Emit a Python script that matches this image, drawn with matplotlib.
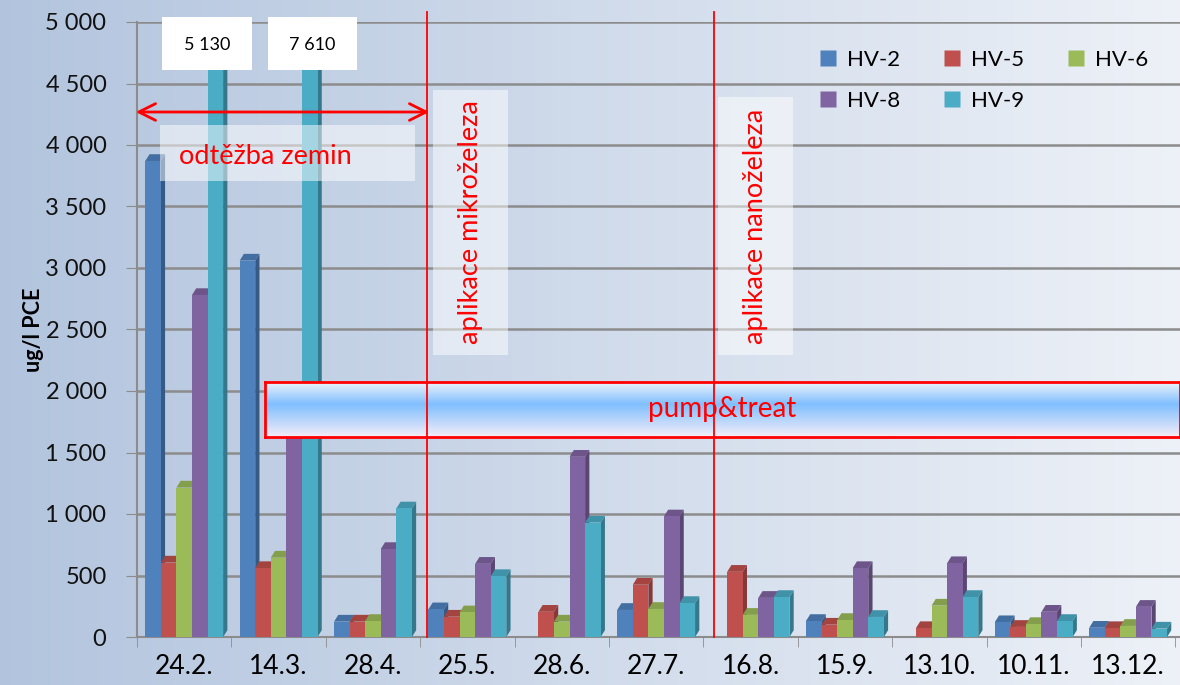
import numpy as np
import matplotlib
matplotlib.use("Agg")
import matplotlib.pyplot as plt
from matplotlib.patches import Polygon, Rectangle, FancyArrowPatch
from matplotlib.lines import Line2D
from matplotlib.ticker import FuncFormatter

plt.rcParams['font.family'] = ['Lato', 'DejaVu Sans']

# data
dates = ['24.2.', '14.3.', '28.4.', '25.5.', '28.6.', '27.7.', '16.8.',
         '15.9.', '13.10.', '10.11.', '13.12.']
series = ['HV-2', 'HV-5', 'HV-6', 'HV-8', 'HV-9']
hv2 = [3870, 3060, 125, 225, 0, 220, 0, 130, 0, 120, 75]
hv5 = [605, 560, 125, 165, 205, 425, 530, 100, 72, 82, 72]
hv6 = [1215, 645, 130, 200, 125, 228, 180, 138, 255, 105, 90]
hv8 = [2780, 1700, 715, 595, 1465, 980, 318, 560, 600, 205, 245]
hv9 = [5130, 7610, 1045, 495, 930, 276, 325, 163, 325, 130, 68]
colors = ['#4f81bd', '#c0504d', '#9bbb59', '#8064a2', '#4bacc6']

W, H = 1180, 685
fig = plt.figure(figsize=(W / 100, H / 100), dpi=100)

def fx(p):
    return p / W

def fy(p):
    return 1 - p / H

# background gradient
bg = fig.add_axes([0, 0, 1, 1], zorder=-10)
c0 = np.array([0.70, 0.77, 0.87])
c1 = np.array([0.93, 0.945, 0.97])
t = np.linspace(0, 1, 256)
grad = c0[None, :] * (1 - t[:, None]) + c1[None, :] * t[:, None]
bg.imshow(grad[None, :, :], aspect='auto', extent=[0, 1, 0, 1])
bg.axis('off')

ax = fig.add_axes([fx(137), 1 - 637 / H, fx(1180) - fx(137), (637 - 22) / H])
ax.set_facecolor('none')

x = np.arange(len(dates))
bw = 0.165
dx, dy = 0.045, 55


def darker(c, f):
    r, g, b = matplotlib.colors.to_rgb(c)
    return (r * f, g * f, b * f)


for k, (vals, col) in enumerate(zip([hv2, hv5, hv6, hv8, hv9], colors)):
    bars = ax.bar(x + (k - 2) * bw, vals, bw, color=col, zorder=3 + k,
                  linewidth=0)
    for r in bars:
        x0, w, h = r.get_x(), r.get_width(), r.get_height()
        if h <= 0:
            continue
        side = Polygon([(x0 + w, 0), (x0 + w + dx, dy), (x0 + w + dx, h + dy),
                        (x0 + w, h)], closed=True, facecolor=darker(col, 0.7),
                       edgecolor='none', zorder=3 + k - 0.01)
        top = Polygon([(x0, h), (x0 + dx, h + dy), (x0 + w + dx, h + dy),
                       (x0 + w, h)], closed=True, facecolor=darker(col, 0.85),
                      edgecolor='none', zorder=3 + k - 0.01)
        ax.add_patch(side)
        ax.add_patch(top)

ax.set_xlim(-0.5, 10.55)
ax.set_ylim(0, 5000)
ax.set_yticks(np.arange(0, 5001, 500))
ax.yaxis.set_major_formatter(FuncFormatter(lambda v, p: f'{int(v):,}'.replace(',', ' ')))
ax.set_xticks(x)
ax.set_xticklabels(dates, fontsize=19)
ax.set_xticks(np.arange(-0.5, 10.6, 1), minor=True)
ax.tick_params(axis='x', which='major', length=0, pad=12)
ax.tick_params(axis='x', which='minor', length=7, color='#8c8c8c')
ax.tick_params(axis='y', labelsize=17, length=8, color='#8c8c8c', pad=14,
               labelcolor='#111111')
for s in ['top', 'right']:
    ax.spines[s].set_visible(False)
ax.spines['left'].set_color('#8c8c8c')
ax.spines['bottom'].set_color('#8c8c8c')
ax.spines['left'].set_linewidth(1.5)
ax.spines['bottom'].set_linewidth(1.5)
ax.yaxis.grid(True, color='#8c8c8c', linewidth=1.8, zorder=0)
ax.set_axisbelow(True)
ax.set_ylabel('ug/l PCE', fontsize=15.5, fontweight='bold', labelpad=1)

# legend (column-major fill, so reorder to get rows HV-2 HV-5 HV-6 / HV-8 HV-9)
order = [0, 3, 1, 4, 2]
handles = [Line2D([], [], marker='s', linestyle='none', markersize=11,
                  markerfacecolor=colors[i], markeredgecolor='none') for i in order]
ax.legend(handles, [series[i] for i in order], ncol=3, loc='upper left',
          bbox_to_anchor=(fx(800), fy(30)), bbox_transform=fig.transFigure,
          frameon=False, fontsize=16, handlelength=0.7, handletextpad=0.5,
          columnspacing=2.0, labelspacing=0.95)

# annotations
for lx in [427, 714]:
    fig.add_artist(Line2D([fx(lx), fx(lx)], [fy(12), fy(637)], color='red',
                          linewidth=1.3, zorder=20))

fig.add_artist(FancyArrowPatch((fx(133), fy(112)), (fx(432), fy(112)),
                               transform=fig.transFigure, arrowstyle='<->',
                               mutation_scale=30, color='red', linewidth=2,
                               zorder=20))
fig.add_artist(Rectangle((fx(160), fy(181)), fx(415) - fx(160), fy(125) - fy(181),
                         transform=fig.transFigure, facecolor='white', alpha=0.5,
                         edgecolor='none', zorder=19))
fig.text(fx(179), fy(156), 'odtěžba zemin', color='red', fontsize=19.5,
         va='center', ha='left', zorder=21)

for x0, x1, lab in [(162, 252, '5 130'), (268, 357, '7 610')]:
    fig.add_artist(Rectangle((fx(x0), fy(70)), fx(x1) - fx(x0), fy(17) - fy(70),
                             transform=fig.transFigure, facecolor='white',
                             edgecolor='none', zorder=19))
    fig.text(fx((x0 + x1) / 2), fy(45), lab, fontsize=13, ha='center',
             va='center', zorder=21)

for x0, x1, y0, y1, lab in [(433, 508, 90, 355, 'aplikace mikroželeza'),
                            (718, 793, 97, 355, 'aplikace nanoželeza')]:
    fig.add_artist(Rectangle((fx(x0), fy(y1)), fx(x1) - fx(x0), fy(y0) - fy(y1),
                             transform=fig.transFigure, facecolor='white',
                             alpha=0.5, edgecolor='none', zorder=19))
    fig.text(fx((x0 + x1) / 2), fy((y0 + y1) / 2), lab, color='red', fontsize=19.5,
             rotation=90, ha='center', va='center', zorder=21)

# pump&treat box with gradient
pa = fig.add_axes([fx(265), fy(437), 1 - fx(265), fy(382) - fy(437)], zorder=5)
tt = np.linspace(0, 1, 100)
top_c = np.array([0.93, 0.95, 0.98])
mid_c = np.array([0.50, 0.75, 1.0])
bot_c = np.array([0.96, 0.93, 0.97])
g = np.where(tt[:, None] < 0.4,
             top_c + (mid_c - top_c) * (tt[:, None] / 0.4),
             mid_c + (bot_c - mid_c) * ((tt[:, None] - 0.4) / 0.6))
pa.imshow(g[:, None, :], aspect='auto', extent=[0, 1, 0, 1])
pa.set_xticks([])
pa.set_yticks([])
for s in pa.spines.values():
    s.set_color('red')
    s.set_linewidth(2)
pa.text(0.5, 0.5, 'pump&treat', color='red', fontsize=20, ha='center',
        va='center', transform=pa.transAxes)

fig.savefig('out.png', dpi=100)
